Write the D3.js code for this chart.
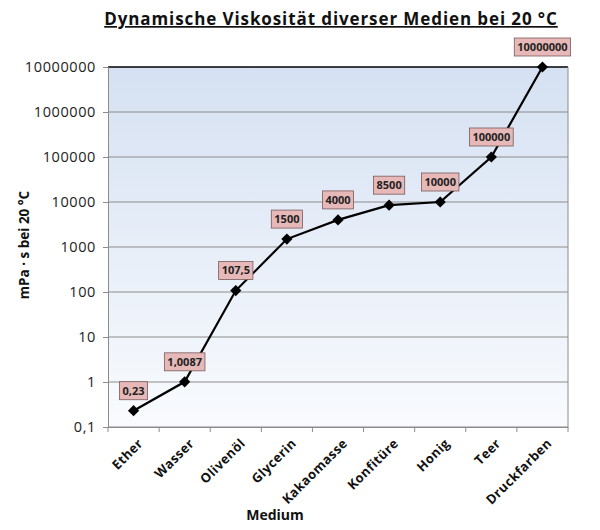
<!DOCTYPE html>
<html>
<head>
<meta charset="utf-8">
<script src="https://cdn.jsdelivr.net/npm/d3@7"></script>
<style>
  body { margin: 0; background: #fff; }
  text { font-family: "Open Sans", "Noto Sans", sans-serif; }
</style>
</head>
<body>
<div id="chart"></div>
<script>
const media = ['Ether', 'Wasser', 'Olivenöl', 'Glycerin', 'Kakaomasse', 'Konfitüre', 'Honig', 'Teer', 'Druckfarben'];
const viscosity = [0.23, 1.0087, 107.5, 1500, 4000, 8500, 10000, 100000, 10000000];
const pointLabels = ['0,23', '1,0087', '107,5', '1500', '4000', '8500', '10000', '100000', '10000000'];
const yTicks = [0.1, 1, 10, 100, 1000, 10000, 100000, 1000000, 10000000];
const yTickLabels = ['0,1', '1', '10', '100', '1000', '10000', '100000', '1000000', '10000000'];

const width = 600;
const height = 530;
const margin = { top: 67, right: 32, bottom: 103, left: 108 };

const svg = d3.select('#chart')
  .append('svg')
  .attr('width', width)
  .attr('height', height);

const x = d3.scaleBand()
  .domain(media)
  .range([margin.left, width - margin.right]);

const y = d3.scaleLog()
  .domain([0.1, 10000000])
  .range([height - margin.bottom, margin.top]);

// plot background gradient
const grad = svg.append('defs').append('linearGradient')
  .attr('id', 'bg')
  .attr('x1', 0).attr('y1', 0).attr('x2', 0).attr('y2', 1);
grad.append('stop').attr('offset', '0%').attr('stop-color', '#d5e1f2');
grad.append('stop').attr('offset', '100%').attr('stop-color', '#f9fbfe');

svg.append('rect')
  .attr('x', margin.left)
  .attr('y', margin.top)
  .attr('width', width - margin.left - margin.right)
  .attr('height', height - margin.bottom - margin.top)
  .attr('fill', 'url(#bg)');

// gridlines
svg.append('g')
  .selectAll('line')
  .data(yTicks)
  .enter()
  .append('line')
  .attr('x1', margin.left)
  .attr('x2', width - margin.right)
  .attr('y1', d => y(d))
  .attr('y2', d => y(d))
  .attr('stroke', d => d === 10000000 ? '#000' : '#8c8c8c')
  .attr('stroke-width', d => d === 10000000 ? 1.3 : 1);

// right border
svg.append('line')
  .attr('x1', width - margin.right).attr('x2', width - margin.right)
  .attr('y1', margin.top).attr('y2', height - margin.bottom)
  .attr('stroke', '#8c8c8c');

// y axis
const yAxis = svg.append('g')
  .attr('transform', `translate(${margin.left},0)`)
  .call(d3.axisLeft(y)
    .tickValues(yTicks)
    .tickFormat((d, i) => yTickLabels[i])
    .tickSize(5)
    .tickPadding(7));
yAxis.select('.domain').attr('stroke', '#8c8c8c');
yAxis.selectAll('line').attr('stroke', '#8c8c8c');
yAxis.selectAll('text')
  .attr('font-size', 14.5)
  .attr('letter-spacing', 0.6)
  .attr('fill', '#222');

// x axis, ticks sit on the category boundaries
const xAxis = svg.append('g')
  .attr('transform', `translate(0,${height - margin.bottom})`)
  .call(d3.axisBottom(x).tickSize(0).tickPadding(0));
xAxis.select('.domain').attr('stroke', '#8c8c8c');
xAxis.selectAll('.tick text')
  .attr('font-size', 13)
  .attr('letter-spacing', 0.4)
  .attr('font-weight', 'bold')
  .attr('fill', '#111')
  .attr('text-anchor', 'end')
  .attr('transform', 'translate(7,14) rotate(-45)')
  .attr('dy', '0.35em');

const boundaries = media.map(m => x(m)).concat([x(media[media.length - 1]) + x.bandwidth()]);
svg.append('g')
  .selectAll('line')
  .data(boundaries)
  .enter()
  .append('line')
  .attr('x1', d => d).attr('x2', d => d)
  .attr('y1', height - margin.bottom)
  .attr('y2', height - margin.bottom + 5)
  .attr('stroke', '#8c8c8c');

// line
const cx = d => x(d.name) + x.bandwidth() / 2;
const data = media.map((m, i) => ({ name: m, value: viscosity[i], label: pointLabels[i] }));

svg.append('path')
  .datum(data)
  .attr('fill', 'none')
  .attr('stroke', '#000')
  .attr('stroke-width', 2.2)
  .attr('d', d3.line().x(cx).y(d => y(d.value)));

// diamond markers
svg.append('g')
  .selectAll('path')
  .data(data)
  .enter()
  .append('path')
  .attr('d', d3.symbol().type(d3.symbolDiamond2).size(80))
  .attr('transform', d => `translate(${cx(d)},${y(d.value)})`)
  .attr('fill', '#000');

// data labels
const lbl = svg.append('g')
  .selectAll('g')
  .data(data)
  .enter()
  .append('g')
  .attr('transform', d => `translate(${cx(d)},${y(d.value) - 20})`);

lbl.append('text')
  .attr('text-anchor', 'middle')
  .attr('dy', '0.35em')
  .attr('font-size', 11)
  .attr('font-weight', 'bold')
  .attr('fill', '#222')
  .text(d => d.label)
  .each(function() {
    const b = this.getBBox();
    d3.select(this.parentNode).insert('rect', 'text')
      .attr('x', b.x - 3)
      .attr('y', -9)
      .attr('width', b.width + 6)
      .attr('height', 18)
      .attr('fill', '#e6b9b8')
      .attr('stroke', '#7a5a5a')
      .attr('stroke-width', 0.8);
  });

// title
svg.append('text')
  .attr('x', 331)
  .attr('y', 25)
  .attr('text-anchor', 'middle')
  .attr('font-size', 17)
  .attr('letter-spacing', 0.9)
  .attr('font-weight', 'bold')
  .attr('fill', '#111')
  .attr('text-decoration', 'underline')
  .text('Dynamische Viskosität diverser Medien bei 20 °C');

// axis titles
svg.append('text')
  .attr('transform', 'translate(29,245) rotate(-90)')
  .attr('text-anchor', 'middle')
  .attr('font-size', 13.5)
  .attr('font-weight', 'bold')
  .attr('fill', '#111')
  .text('mPa · s bei 20 °C');

svg.append('text')
  .attr('x', 275)
  .attr('y', 520)
  .attr('text-anchor', 'middle')
  .attr('font-size', 14)
  .attr('font-weight', 'bold')
  .attr('fill', '#111')
  .text('Medium');
</script>
</body>
</html>
